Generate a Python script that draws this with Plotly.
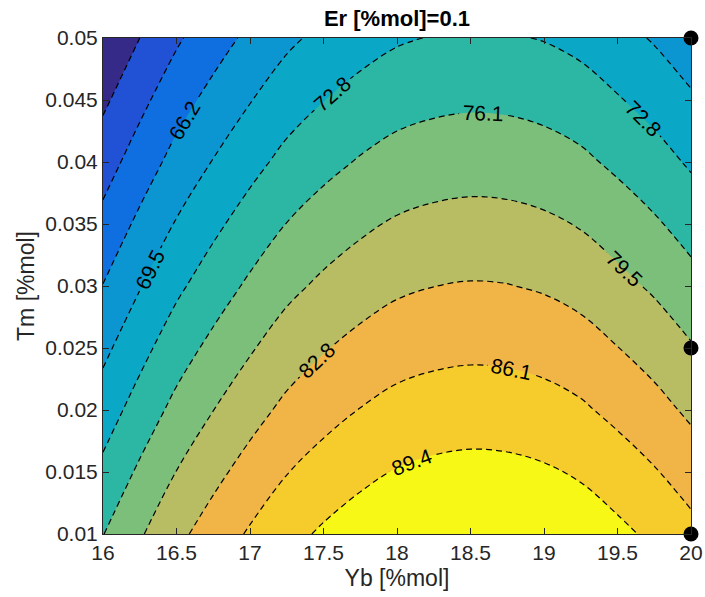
import plotly.graph_objects as go

# Yb content (x) and Tm content (y) of the response grid
yb = [16.0, 16.25, 16.5, 16.75, 17.0, 17.25, 17.5, 17.75, 18.0,
      18.25, 18.5, 18.75, 19.0, 19.25, 19.5, 19.75, 20.0]
tm = [0.01, 0.02, 0.03, 0.04, 0.05]

# Response values, one row per Tm level
z_tm010 = [76.05, 79.10, 81.95, 84.30, 86.45, 88.40, 89.85, 91.05, 92.00,
           92.50, 92.73, 92.62, 92.20, 91.42, 90.15, 88.75, 87.05]
z_tm020 = [71.17, 74.22, 77.07, 79.42, 81.57, 83.52, 84.97, 86.17, 87.12,
           87.62, 87.85, 87.74, 87.32, 86.54, 85.27, 83.87, 82.17]
z_tm030 = [66.29, 69.34, 72.19, 74.54, 76.69, 78.64, 80.09, 81.29, 82.24,
           82.74, 82.97, 82.86, 82.44, 81.66, 80.39, 78.99, 77.29]
z_tm040 = [61.41, 64.46, 67.31, 69.66, 71.81, 73.76, 75.21, 76.41, 77.36,
           77.86, 78.09, 77.98, 77.56, 76.78, 75.51, 74.11, 72.41]
z_tm050 = [56.53, 59.58, 62.43, 64.78, 66.93, 68.88, 70.33, 71.53, 72.48,
           72.98, 73.21, 73.10, 72.68, 71.90, 70.63, 69.23, 67.53]
response = [z_tm010, z_tm020, z_tm030, z_tm040, z_tm050]

# Contour levels
level_start = 59.58
level_step = 3.3125
level_end = 89.40

# Design points
edge_yb = [20, 20, 20]
edge_tm = [0.05, 0.025, 0.01]
open_yb = [16, 18]
open_tm = [0.025, 0.025]

x_ticks = [16, 16.5, 17, 17.5, 18, 18.5, 19, 19.5, 20]
x_ticktext = ["16", "16.5", "17", "17.5", "18", "18.5", "19", "19.5", "20"]
y_ticks = [0.01, 0.015, 0.02, 0.025, 0.03, 0.035, 0.04, 0.045, 0.05]
y_ticktext = ["0.01", "0.015", "0.02", "0.025", "0.03", "0.035", "0.04", "0.045", "0.05"]

# One fill colour per band (parula-like)
band_colors = ["#352A87", "#2151D4", "#0F6FE0", "#0B95D1", "#0AA8C6", "#2CB6A4",
               "#7CBF7B", "#B8BC62", "#F0B546", "#F6CC2C", "#F8F816"]
colorscale = [[i / (len(band_colors) - 1), c] for i, c in enumerate(band_colors)]

FONT = "Liberation Sans, Arial, Helvetica, sans-serif"
AXIS_COLOR = "#262626"

fig = go.Figure()
fig.add_trace(go.Contour(
    x=yb, y=tm, z=response,
    autocontour=False,
    contours=dict(start=level_start, end=level_end, size=level_step,
                  coloring="fill", showlabels=True, labelformat=".1f",
                  labelfont=dict(family=FONT, size=21, color="black")),
    colorscale=colorscale,
    showscale=False,
    line=dict(color="black", width=1.2, dash="6px,4px", smoothing=1),
    hoverinfo="skip",
))
fig.add_trace(go.Scatter(
    x=edge_yb, y=edge_tm, mode="markers", cliponaxis=False,
    marker=dict(size=15, color="black", symbol="circle"),
    showlegend=False, hoverinfo="skip",
))
fig.add_trace(go.Scatter(
    x=open_yb, y=open_tm, mode="markers", cliponaxis=False,
    marker=dict(size=13, color="rgba(0,0,0,0)", symbol="circle-open",
                line=dict(color="black", width=1.4)),
    showlegend=False, hoverinfo="skip",
))

axis_common = dict(showline=True, linecolor=AXIS_COLOR, linewidth=1, mirror="ticks",
                   ticks="inside", ticklen=6, tickcolor=AXIS_COLOR, showgrid=False,
                   zeroline=False, automargin=False,
                   tickfont=dict(family=FONT, size=21, color=AXIS_COLOR))

fig.update_xaxes(range=[16, 20], tickvals=x_ticks, ticktext=x_ticktext,
                 title=dict(text="Yb [%mol]", font=dict(family=FONT, size=23, color=AXIS_COLOR),
                            standoff=6),
                 **axis_common)
fig.update_yaxes(range=[0.01, 0.05], tickvals=y_ticks, ticktext=y_ticktext,
                 title=dict(text="Tm [%mol]", font=dict(family=FONT, size=23, color=AXIS_COLOR),
                            standoff=4),
                 **axis_common)

fig.update_layout(
    width=705, height=597,
    margin=dict(l=103, r=14, t=38, b=63),
    paper_bgcolor="white", plot_bgcolor="white",
    showlegend=False,
    title=dict(text="<b>Er [%mol]=0.1</b>", xref="paper", x=0.5, xanchor="center",
               yref="container", y=1 - 18 / 597, yanchor="middle",
               font=dict(family=FONT, size=22, color="black")),
)

fig.write_html("out.html")
